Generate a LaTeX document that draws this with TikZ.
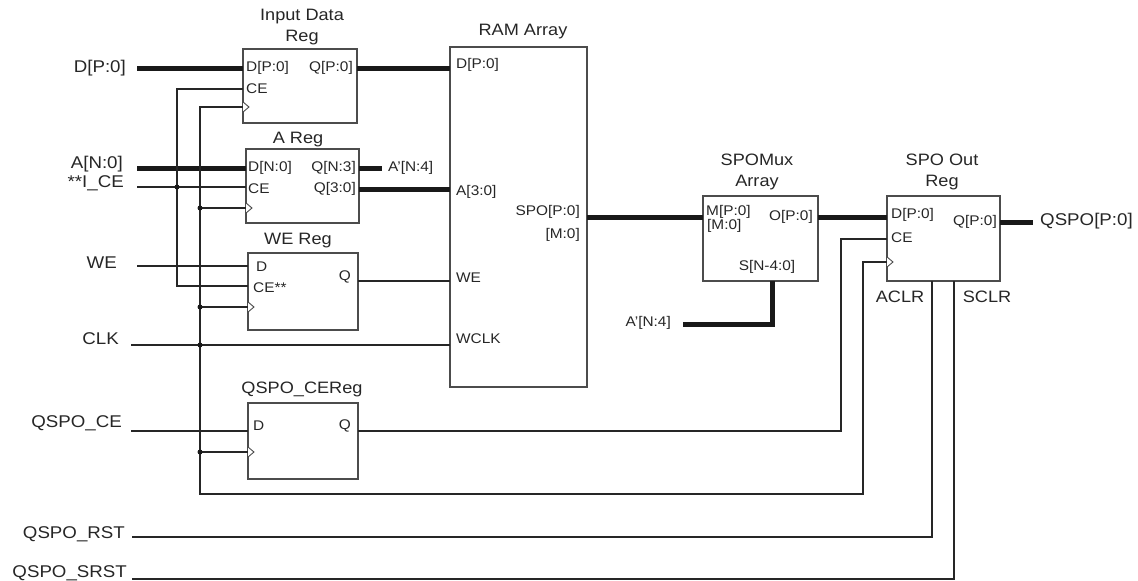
\documentclass[tikz,border=0pt]{standalone}
\usepackage{fontspec}
\setmainfont{Liberation Sans}[FakeStretch=1.1]
\usetikzlibrary{calc}
\begin{document}
\begin{tikzpicture}[x=1pt,y=-1pt,
 box/.style={draw=black!70, line width=1.2pt, inner sep=0, outer sep=0, anchor=north west},
 wire/.style={draw=black!85, line width=1.1pt},
 bus/.style={draw=black!90, line width=5pt},
 clkt/.style={draw=black!70, line width=0.9pt, fill=white},
 dot/.style={circle, fill=black!90, inner sep=0, minimum size=5pt},
 big/.style={font=\fontsize{17}{17}\selectfont, inner sep=0, text=black!85},
 port/.style={font=\fontsize{14}{14}\selectfont, inner sep=0, text=black!85},
 ttl/.style={font=\fontsize{16.5}{20.5}\selectfont, inner sep=0, align=center, text=black!85},
]
\useasboundingbox (0,0) rectangle (1138,581);

% ---------- boxes ----------
\node[box, minimum width=114pt, minimum height=74pt] (idr) at (243,49) {};
\node[box, minimum width=113pt, minimum height=74pt] (areg) at (246,149) {};
\node[box, minimum width=110pt, minimum height=77pt] (wereg) at (248,253) {};
\node[box, minimum width=137pt, minimum height=340pt] (ram) at (450,47) {};
\node[box, minimum width=110pt, minimum height=76pt] (cereg) at (248,403) {};
\node[box, minimum width=115pt, minimum height=85pt] (mux) at (703,196) {};
\node[box, minimum width=113pt, minimum height=85pt] (oreg) at (887,196) {};

% ---------- titles ----------
\node[ttl] (tidr) at (302,27) {Input Data\\Reg};
\node[ttl] (tareg) at (298,140) {A Reg};
\node[ttl] (twe) at (298,241) {WE Reg};
\node[ttl] (tram) at (523,32) {RAM Array};
\node[ttl] (tce) at (302,389) {QSPO\_CEReg};
\node[ttl] (tmux) at (757,172) {SPOMux\\Array};
\node[ttl] (toreg) at (942,172) {SPO Out\\Reg};
\node[ttl, anchor=center] (taclr) at (900,297) {ACLR};
\node[ttl, anchor=center] (tsclr) at (987,297) {SCLR};

% ---------- outer labels ----------
\node[big, anchor=east] (lD) at (126,68) {D[P:0]};
\node[big, anchor=east] (lA) at (123,164) {A[N:0]};
\node[big, anchor=east] (lICE) at (124,183) {**I\_CE};
\node[big, anchor=east] (lWE) at (117,263) {WE};
\node[big, anchor=east] (lCLK) at (119,339) {CLK};
\node[big, anchor=east] (lQCE) at (122,423) {QSPO\_CE};
\node[big, anchor=east] (lRST) at (125,534) {QSPO\_RST};
\node[big, anchor=east] (lSRST) at (127,573) {QSPO\_SRST};
\node[big, anchor=west] (lQ) at (1040,221) {QSPO[P:0]};
\node[port, anchor=west] (lAp1) at (388,168) {A'[N:4]};
\node[port, anchor=east] (lAp2) at (671,323) {A'[N:4]};

% ---------- port labels ----------
\node[port, anchor=west] at (246,68) {D[P:0]};
\node[port, anchor=east] at (353,68) {Q[P:0]};
\node[port, anchor=west] at (246,89) {CE};
\node[port, anchor=west] at (248,168) {D[N:0]};
\node[port, anchor=east] at (356,168) {Q[N:3]};
\node[port, anchor=west] at (248,189) {CE};
\node[port, anchor=east] at (356,189) {Q[3:0]};
\node[port, anchor=west] at (256,267) {D};
\node[port, anchor=west] at (253,288) {CE**};
\node[port, anchor=east] at (351,277) {Q};
\node[port, anchor=west] at (456,65) {D[P:0]};
\node[port, anchor=west] at (456,192) {A[3:0]};
\node[port, anchor=east] at (580,212) {SPO[P:0]};
\node[port, anchor=east] at (580,235) {[M:0]};
\node[port, anchor=west] at (456,278) {WE};
\node[port, anchor=west] at (456,339) {WCLK};
\node[port, anchor=west] at (253,426) {D};
\node[port, anchor=east] at (351,426) {Q};
\node[port, anchor=west] at (706,212) {M[P:0]};
\node[port, anchor=west] at (707,226) {[M:0]};
\node[port, anchor=east] at (813,217) {O[P:0]};
\node[port] at (767,267) {S[N-4:0]};
\node[port, anchor=west] at (891,215) {D[P:0]};
\node[port, anchor=east] at (997,222) {Q[P:0]};
\node[port, anchor=west] at (891,238) {CE};

% ---------- pin coordinates ----------
\coordinate (inD) at (137,68);
\coordinate (inA) at (137,168);
\coordinate (inICE) at (137,187);
\coordinate (inWE) at (137,266);
\coordinate (inCLK) at (131,345);
\coordinate (inQCE) at (131,431);
\coordinate (inRST) at (132,537);
\coordinate (inSRST) at (132,579);
\coordinate (ap1end) at (382,168);
\coordinate (ap2end) at (683,324);
\coordinate (qend) at (1033,222);
\coordinate (idrCLK) at (243,107);
\coordinate (aregCLK) at (246,208);
\coordinate (weCLK) at (248,307);
\coordinate (ceCLK) at (248,452);
\coordinate (oregCLK) at (887,262);
\coordinate (oregCE) at (887,239);

% ---------- buses ----------
\draw[bus] (inD) -- (idr.west |- inD);
\draw[bus] (idr.east |- inD) -- (ram.west |- inD);
\draw[bus] (inA) -- (areg.west |- inA);
\draw[bus] (areg.east |- inA) -- (ap1end);
\draw[bus] (359,189) -- (ram.west |- 0,189);
\draw[bus] (ram.east |- 0,217) -- (mux.west |- 0,217);
\draw[bus] (mux.east |- 0,217) -- (oreg.west |- 0,217);
\draw[bus] (oreg.east |- qend) -- (qend);
\draw[bus, line join=miter] (mux.south -| 772,0) -- (772,324) -- (ap2end);

% ---------- wires ----------
\draw[wire] (idr.west |- 0,89) -- (177,89) -- (177,286) -- (wereg.west |- 0,286);
\draw[wire] (inICE) -- (areg.west |- inICE);
\draw[wire] (inWE) -- (wereg.west |- inWE);
\draw[wire] (wereg.east |- 0,281) -- (ram.west |- 0,281);
\draw[wire] (inCLK) -- (ram.west |- inCLK);
\draw[wire] (idrCLK) -- (200,107) -- (200,494) -- (863,494) -- (863,262) -- (oregCLK);
\draw[wire] (200,208) -- (aregCLK);
\draw[wire] (200,307) -- (weCLK);
\draw[wire] (200,452) -- (ceCLK);
\draw[wire] (inQCE) -- (cereg.west |- inQCE);
\draw[wire] (cereg.east |- inQCE) -- (841,431) -- (841,239) -- (oregCE);
\draw[wire] (inRST) -- (932,537) -- (oreg.south -| 932,0);
\draw[wire] (inSRST) -- (954,579) -- (oreg.south -| 954,0);

% ---------- clock triangles ----------
\foreach \c in {idrCLK,aregCLK,weCLK,ceCLK,oregCLK}
  \draw[clkt] ($(\c)+(0,-5)$) -- ($(\c)+(6,0)$) -- ($(\c)+(0,5)$);

% ---------- dots ----------
\node[dot] (d1) at (177,187) {};
\node[dot] (d2) at (200,208) {};
\node[dot] (d3) at (200,307) {};
\node[dot] (d4) at (200,345) {};
\node[dot] (d5) at (200,452) {};
\end{tikzpicture}
\end{document}
